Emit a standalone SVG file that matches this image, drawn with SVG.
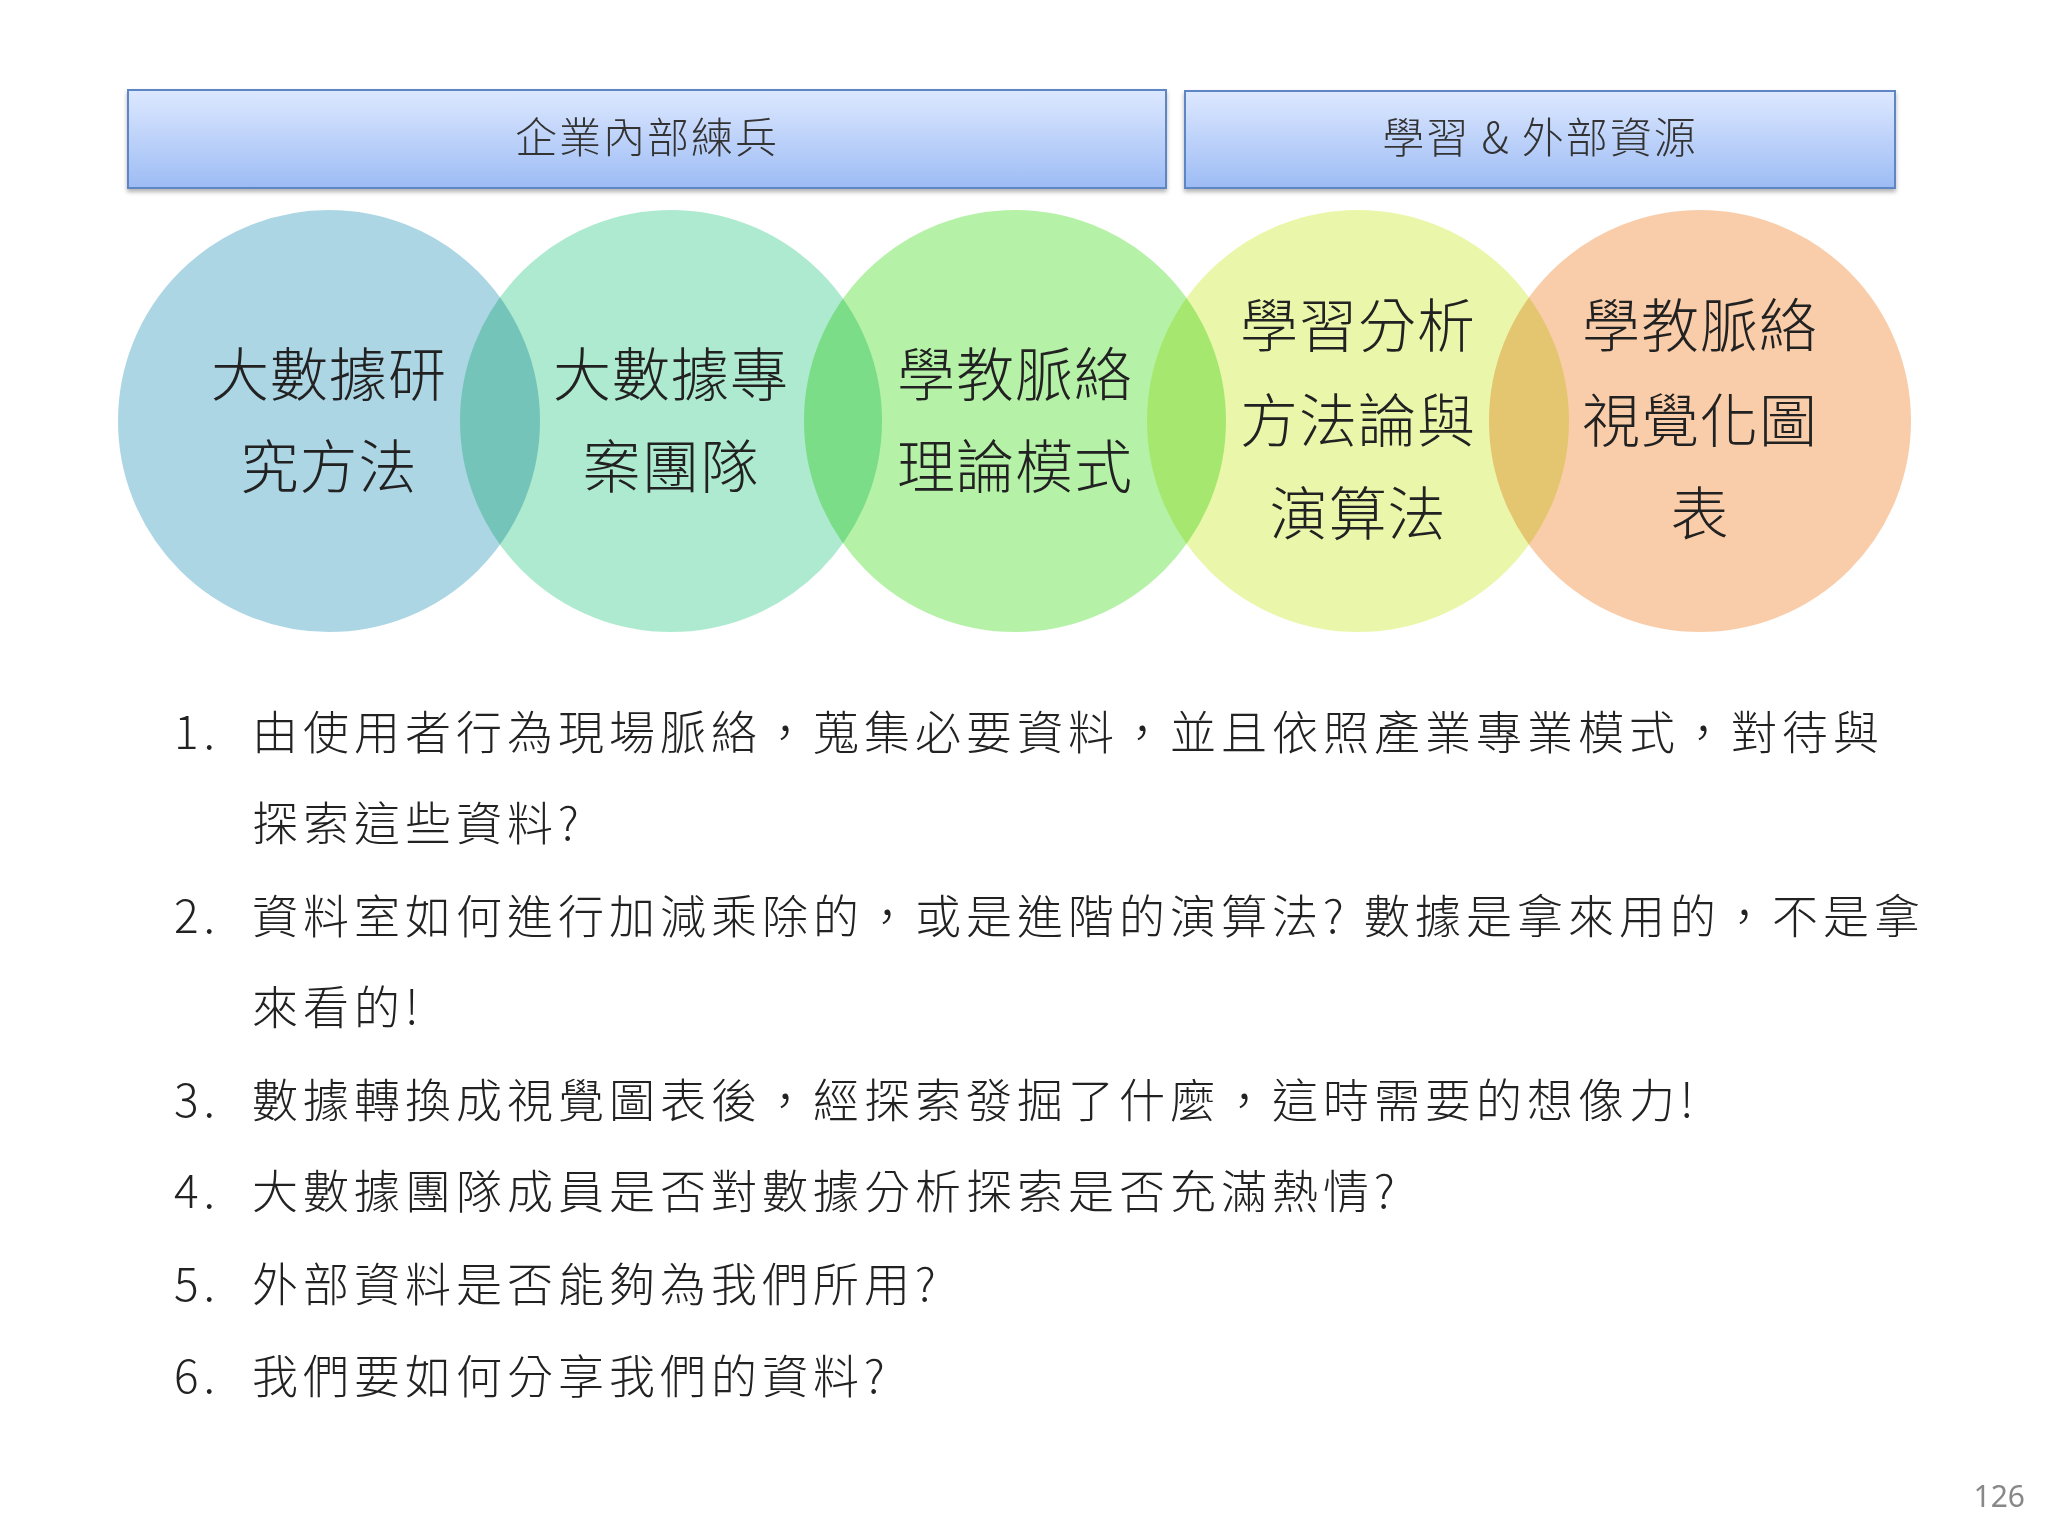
<svg xmlns="http://www.w3.org/2000/svg" width="2048" height="1536" viewBox="0 0 2048 1536">
<defs>
<linearGradient id="hg" x1="0" y1="0" x2="0" y2="1"><stop offset="0" stop-color="#dde8ff"/><stop offset="1" stop-color="#9dbcf4"/></linearGradient>
<filter id="sh" x="-5%" y="-20%" width="110%" height="150%"><feDropShadow dx="0" dy="3" stdDeviation="2" flood-color="#000" flood-opacity="0.3"/></filter>
<style>
.hb{fill:url(#hg);stroke:#5f86c4;stroke-width:2}
.ht{font-family:"Noto Sans CJK TC","Noto Sans",sans-serif;font-size:42px;font-weight:300;letter-spacing:2px;fill:#333;text-anchor:middle}
.c{stroke:#fff;stroke-width:4;fill-opacity:0.85;mix-blend-mode:multiply}
.ct{font-family:"Noto Sans CJK TC",sans-serif;font-size:58px;font-weight:300;letter-spacing:1px;fill:#222;text-anchor:middle}
.lt{font-family:"Noto Sans CJK TC","Noto Sans",sans-serif;font-size:46px;font-weight:300;letter-spacing:5px;fill:#222}
</style>
</defs>
<rect width="2048" height="1536" fill="#fff"/>
<g id="header1"><rect class="hb" x="128" y="90" width="1038" height="98" filter="url(#sh)"/><text class="ht" x="647" y="153">企業內部練兵</text></g>
<g id="header2"><rect class="hb" x="1185" y="91" width="710" height="97" filter="url(#sh)"/><text class="ht" x="1540" y="153">學習 &amp; 外部資源</text></g>
<g id="circles">
<g id="c1"><circle class="c" cx="329" cy="421" r="213" fill="#9fcfdf"/></g>
<g id="c2"><circle class="c" cx="671" cy="421" r="213" fill="#9fe6c8"/></g>
<g id="c3"><circle class="c" cx="1015" cy="421" r="213" fill="#a8ee98"/></g>
<g id="c4"><circle class="c" cx="1358" cy="421" r="213" fill="#e6f59a"/></g>
<g id="c5"><circle class="c" cx="1700" cy="421" r="213" fill="#f8c49a"/></g>
</g>
<g id="labels">
<text class="ct" x="329" y="396">大數據研</text><text class="ct" x="329" y="488">究方法</text>
<text class="ct" x="671" y="396">大數據專</text><text class="ct" x="671" y="488">案團隊</text>
<text class="ct" x="1015" y="396">學教脈絡</text><text class="ct" x="1015" y="488">理論模式</text>
<text class="ct" x="1358" y="347">學習分析</text><text class="ct" x="1358" y="442">方法論與</text><text class="ct" x="1358" y="535">演算法</text>
<text class="ct" x="1700" y="347">學教脈絡</text><text class="ct" x="1700" y="442">視覺化圖</text><text class="ct" x="1700" y="535">表</text>
</g>
<g id="list" class="lt">
<text x="174" y="749">1.</text><text x="252" y="749">由使用者行為現場脈絡，蒐集必要資料，並且依照產業專業模式，對待與</text>
<text x="252" y="840">探索這些資料?</text>
<text x="174" y="933">2.</text><text x="252" y="933">資料室如何進行加減乘除的，或是進階的演算法? 數據是拿來用的，不是拿</text>
<text x="252" y="1024">來看的!</text>
<text x="174" y="1117">3.</text><text x="252" y="1117">數據轉換成視覺圖表後，經探索發掘了什麼，這時需要的想像力!</text>
<text x="174" y="1208">4.</text><text x="252" y="1208">大數據團隊成員是否對數據分析探索是否充滿熱情?</text>
<text x="174" y="1301">5.</text><text x="252" y="1301">外部資料是否能夠為我們所用?</text>
<text x="174" y="1393">6.</text><text x="252" y="1393">我們要如何分享我們的資料?</text>
</g>
<text x="2025" y="1507" font-family="'Noto Sans',sans-serif" font-size="30" fill="#888" text-anchor="end">126</text>
</svg>
